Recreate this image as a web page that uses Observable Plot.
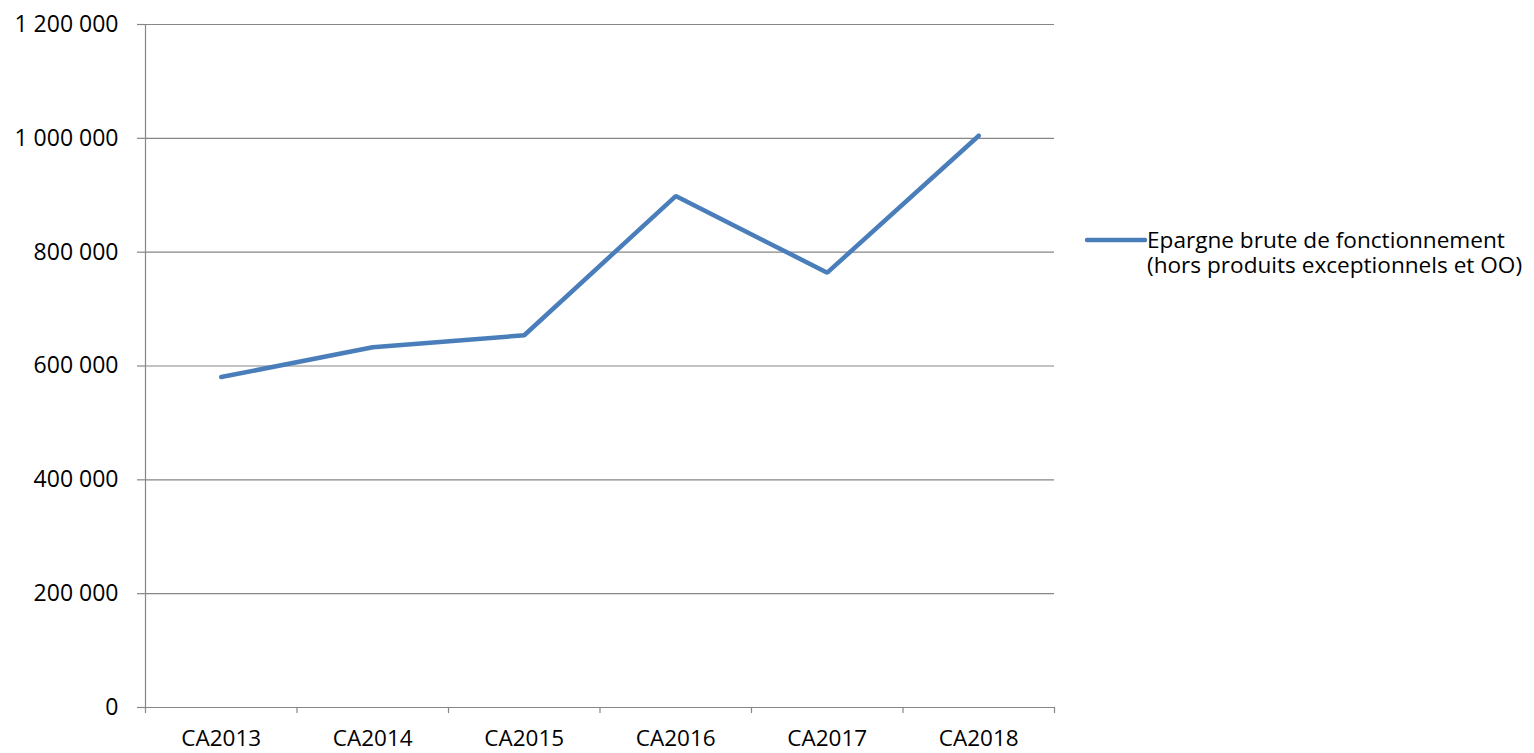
<!DOCTYPE html>
<html>
<head>
<meta charset="utf-8">
<script src="https://cdn.jsdelivr.net/npm/d3@7"></script>
<script src="https://cdn.jsdelivr.net/npm/@observablehq/plot@0.6"></script>
<style>
  html, body { margin: 0; padding: 0; background: #fff; }
  #wrap { position: relative; width: 1534px; height: 753px; font-family: "Open Sans", sans-serif; }
  #legend { position: absolute; left: 1083px; top: 227px; display: flex; align-items: flex-start; font-size: 22.6px; line-height: 25px; color: #000; white-space: nowrap; }
</style>
</head>
<body>
<div id="wrap">
  <div id="chart"></div>
  <div id="legend"></div>
</div>
<script>
const categories = ["CA2013", "CA2014", "CA2015", "CA2016", "CA2017", "CA2018"];
const values = [580600, 633000, 654000, 898500, 764000, 1004600];
const yTicks = [0, 200000, 400000, 600000, 800000, 1000000, 1200000];
const seriesName = ["Epargne brute de fonctionnement", "(hors produits exceptionnels et OO)"];
const lineColor = "#4a7ebb";
const gridColor = "#868686";

const data = categories.map((c, i) => ({ x: i + 0.5, cat: c, value: values[i] }));
const fmt = v => d3.format(",")(v).replace(/,/g, " ");

const plot = Plot.plot({
  width: 1534,
  height: 753,
  marginLeft: 145,
  marginRight: 480,
  marginTop: 24,
  marginBottom: 46,
  style: { fontFamily: "Open Sans, sans-serif", fontSize: "23px", color: "#000", background: "#fff", overflow: "visible" },
  x: { type: "linear", domain: [0, categories.length] },
  y: { domain: [0, 1200000] },
  marks: [
    Plot.ruleY(yTicks, { stroke: gridColor, strokeWidth: 1.2, strokeOpacity: 1 }),
    Plot.ruleX([0], { stroke: gridColor, strokeWidth: 1.2 }),
    Plot.axisY({ ticks: yTicks, tickFormat: fmt, tickSize: 8, tickPadding: 19, stroke: gridColor, strokeWidth: 1.2, label: null, fontSize: 23 }),
    Plot.axisX({ ticks: d3.range(0, categories.length + 1), tickSize: 6, tickFormat: () => "", stroke: gridColor, strokeWidth: 1.2, label: null }),
    Plot.axisX({ ticks: d3.range(0.5, categories.length), tickSize: 0, tickPadding: 23, tickFormat: v => categories[Math.floor(v)], label: null, fontSize: 22.5 }),
    Plot.line(data, { x: "x", y: "value", stroke: lineColor, strokeWidth: 4.5, strokeLinecap: "round", strokeLinejoin: "miter" })
  ]
});
document.getElementById("chart").appendChild(plot);

// legend
const legend = document.getElementById("legend");
const sw = d3.create("svg").attr("width", 64).attr("height", 25);
sw.append("line").attr("x1", 4).attr("x2", 62).attr("y1", 13).attr("y2", 13)
  .attr("stroke", lineColor).attr("stroke-width", 4.5).attr("stroke-linecap", "round");
legend.appendChild(sw.node());
const txt = document.createElement("div");
txt.innerHTML = seriesName.join("<br>");
legend.appendChild(txt);
</script>
</body>
</html>
